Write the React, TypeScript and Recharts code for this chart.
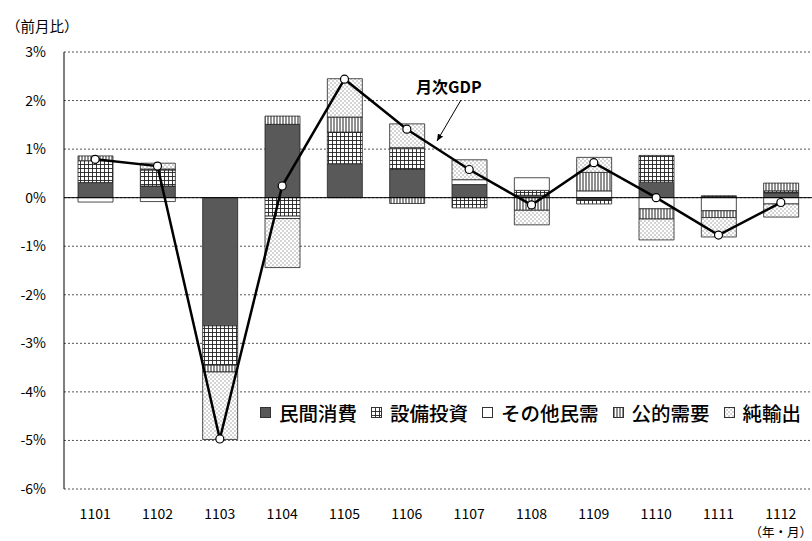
import {
  ComposedChart,
  Bar,
  Line,
  XAxis,
  YAxis,
  CartesianGrid,
  ReferenceLine,
} from "recharts";

// 月次GDP 前月比と需要項目別寄与度（%）
const months = ["1101", "1102", "1103", "1104", "1105", "1106", "1107", "1108", "1109", "1110", "1111", "1112"];
const privateConsumption = [0.31, 0.24, -2.64, 1.51, 0.7, 0.58, 0.27, 0.05, -0.05, 0.32, 0, 0.1];
const equipmentInvestment = [0.45, 0.33, -0.81, -0.38, 0.65, 0.43, -0.21, 0.1, -0.08, 0.55, 0.04, 0.04];
const otherPrivate = [-0.09, -0.08, 0, -0.05, 0, 0.02, 0.1, 0.26, 0.14, -0.23, -0.27, -0.13];
const publicDemand = [0.1, 0.02, -0.14, 0.17, 0.31, -0.12, 0, -0.26, 0.38, -0.21, -0.14, 0.16];
const netExports = [0, 0.12, -1.39, -1.01, 0.79, 0.49, 0.41, -0.3, 0.31, -0.43, -0.4, -0.27];
const monthlyGdp = [0.79, 0.65, -4.97, 0.24, 2.44, 1.41, 0.58, -0.15, 0.72, 0, -0.77, -0.1];
const yTicks = [-6, -5, -4, -3, -2, -1, 0, 1, 2, 3];

const data = months.map((m, i) => ({
  month: m,
  pc: privateConsumption[i],
  inv: equipmentInvestment[i],
  other: otherPrivate[i],
  pub: publicDemand[i],
  nx: netExports[i],
  gdp: monthlyGdp[i],
}));

const FONT = '"Noto Sans CJK JP", "Noto Sans", sans-serif';
const BAR_STROKE = "#222";

const series = [
  { key: "pc", name: "民間消費", fill: "#595959" },
  { key: "inv", name: "設備投資", fill: "url(#pat-grid)" },
  { key: "other", name: "その他民需", fill: "#ffffff" },
  { key: "pub", name: "公的需要", fill: "url(#pat-vstripe)" },
  { key: "nx", name: "純輸出", fill: "url(#pat-dot)" },
];

const LegendIcon = ({ fill }: { fill: string }) => (
  <svg width={11} height={11} style={{ marginRight: 8 }}>
    <rect x={0.5} y={0.5} width={10} height={10} fill={fill} stroke="#333" strokeWidth={1} />
  </svg>
);

export default function App() {
  return (
    <div
      style={{
        position: "absolute",
        left: 0,
        top: 0,
        width: 812,
        height: 541,
        background: "#fff",
        fontFamily: FONT,
        overflow: "hidden",
      }}
    >
      <ComposedChart
        width={812}
        height={541}
        data={data}
        stackOffset="sign"
        margin={{ top: 52, right: 0, bottom: 12, left: 0 }}
      >
        <defs>
          <pattern id="pat-grid" width={4} height={4} patternUnits="userSpaceOnUse">
            <rect width={4} height={4} fill="#fff" />
            <path d="M0 0.5 H4 M0.5 0 V4" stroke="#222" strokeWidth={0.9} />
          </pattern>
          <pattern id="pat-vstripe" width={3} height={3} patternUnits="userSpaceOnUse">
            <rect width={3} height={3} fill="#fff" />
            <path d="M1 0 V3" stroke="#333" strokeWidth={1.1} />
          </pattern>
          <pattern id="pat-dot" width={4} height={4} patternUnits="userSpaceOnUse">
            <rect width={4} height={4} fill="#fff" />
            <rect x={0.5} y={0.5} width={1} height={1} fill="#555" />
            <rect x={2.5} y={2.5} width={1} height={1} fill="#555" />
          </pattern>
        </defs>
        <CartesianGrid vertical={false} stroke="#555" strokeDasharray="2 2" />
        <XAxis
          dataKey="month"
          axisLine={false}
          tickLine={false}
          height={40}
          tickMargin={14}
          tick={{ fontSize: 14, fill: "#000", fontFamily: FONT }}
          interval={0}
        />
        <YAxis
          domain={[-6, 3]}
          ticks={yTicks}
          width={64}
          axisLine={{ stroke: "#000", strokeWidth: 1 }}
          tickLine={false}
          tickMargin={12}
          tickFormatter={(v: number) => `${v}%`}
          tick={{ fontSize: 14, fill: "#000", fontFamily: FONT }}
        />
        <ReferenceLine y={0} stroke="#000" strokeWidth={1} />
        {series.map((s) => (
          <Bar
            key={s.key}
            dataKey={s.key}
            name={s.name}
            stackId="a"
            barSize={35}
            fill={s.fill}
            stroke={BAR_STROKE}
            strokeWidth={0.8}
            isAnimationActive={false}
          />
        ))}
        <Line
          dataKey="gdp"
          name="月次GDP"
          stroke="#000"
          strokeWidth={2.5}
          dot={{ r: 4, fill: "#fff", stroke: "#000", strokeWidth: 1.2 }}
          activeDot={false}
          isAnimationActive={false}
        />
      </ComposedChart>

      {/* 単位 */}
      <div style={{ position: "absolute", left: 6, top: 16, fontSize: 14.5, lineHeight: 1.4, color: "#000" }}>
        （前月比）
      </div>
      <div style={{ position: "absolute", right: 0, top: 526, fontSize: 12.5, lineHeight: 1, color: "#000" }}>
        （年・月）
      </div>

      {/* 月次GDP 注記 */}
      <div
        style={{
          position: "absolute",
          left: 416,
          top: 76,
          fontSize: 16,
          lineHeight: 1.3,
          fontWeight: 700,
          color: "#000",
        }}
      >
        月次GDP
      </div>
      <svg
        width={812}
        height={541}
        style={{ position: "absolute", left: 0, top: 0, pointerEvents: "none" }}
      >
        <defs>
          <marker id="arrow-head" markerWidth={8} markerHeight={8} refX={7} refY={4} orient="auto">
            <path d="M0 1 L7 4 L0 7 Z" fill="#000" />
          </marker>
        </defs>
        <line x1={461} y1={100} x2={437} y2={141} stroke="#000" strokeWidth={1} markerEnd="url(#arrow-head)" />
      </svg>

      {/* 凡例 */}
      <div
        style={{
          position: "absolute",
          left: 260,
          top: 400,
          display: "flex",
          gap: 14,
          fontSize: 19.5,
          lineHeight: 1.3,
          fontWeight: 500,
          color: "#000",
          background: "#fff",
          whiteSpace: "nowrap",
        }}
      >
        {series.map((s) => (
          <span key={s.key} style={{ display: "inline-flex", alignItems: "center" }}>
            <LegendIcon fill={s.fill} />
            {s.name}
          </span>
        ))}
      </div>
    </div>
  );
}
